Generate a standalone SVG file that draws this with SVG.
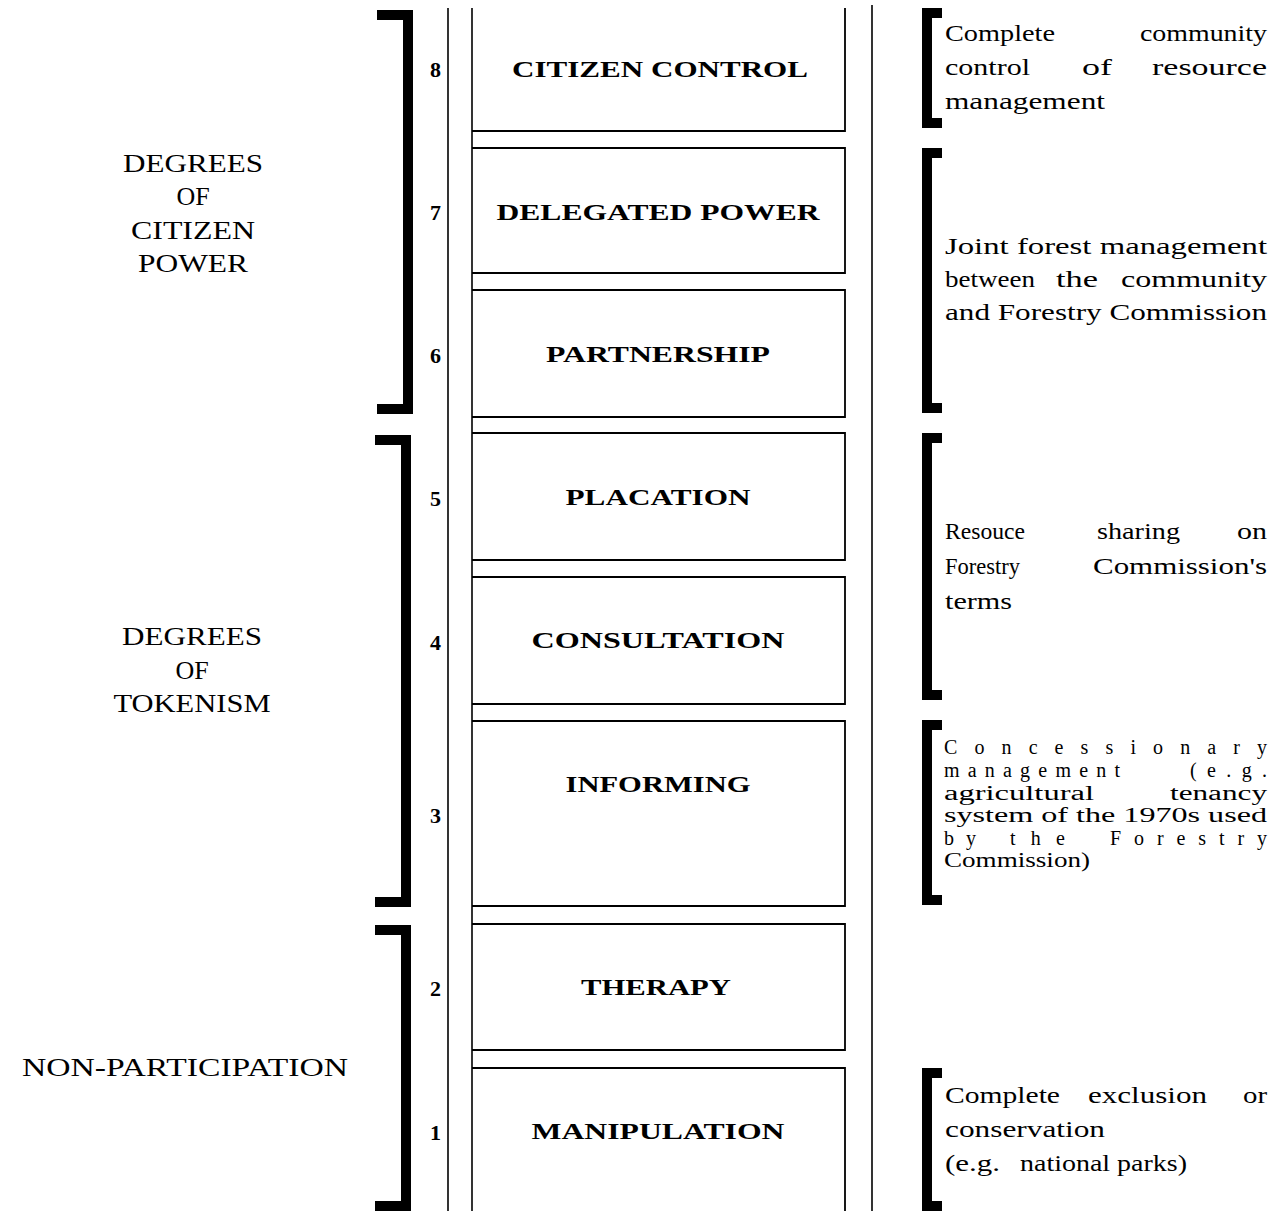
<svg xmlns="http://www.w3.org/2000/svg" width="1285" height="1211" viewBox="0 0 1285 1211">
<style>
.rail{stroke:#000;stroke-width:1.6;fill:none}
.box{stroke:#000;stroke-width:1.8;fill:none}
.br{stroke:#000;stroke-width:10;fill:none;stroke-linejoin:miter;stroke-linecap:butt}
.lbl{font-family:"Liberation Serif","Times New Roman",serif;font-weight:bold;font-size:24px;fill:#000;text-anchor:middle}
.num{font-family:"Liberation Serif","Times New Roman",serif;font-weight:bold;font-size:22px;fill:#000;text-anchor:end}
.grp{font-family:"Liberation Serif","Times New Roman",serif;font-size:26px;fill:#000;text-anchor:middle}
.desc{font-family:"Liberation Serif","Times New Roman",serif;font-size:24px;fill:#000}
.desc2{font-family:"Liberation Serif","Times New Roman",serif;font-size:20px;fill:#000}
.e{text-anchor:end}
</style>
<rect width="1285" height="1211" fill="#fff"/>
<g id="rails">
<line class="rail" x1="448" y1="8" x2="448" y2="1211"/>
<line class="rail" x1="472" y1="8" x2="472" y2="1211"/>
<line class="rail" x1="872" y1="5" x2="872" y2="1211"/>
</g>
<g id="rung8"><path class="box" d="M845,8 V131 H472"/><text class="num" x="441" y="77">8</text><text class="lbl" x="660" y="77" textLength="296" lengthAdjust="spacingAndGlyphs">CITIZEN CONTROL</text></g>
<g id="rung7"><path class="box" d="M472,148 H845 V273 H472"/><text class="num" x="441" y="220">7</text><text class="lbl" x="658" y="220" textLength="323" lengthAdjust="spacingAndGlyphs">DELEGATED POWER</text></g>
<g id="rung6"><path class="box" d="M472,290 H845 V417 H472"/><text class="num" x="441" y="363">6</text><text class="lbl" x="658" y="362" textLength="224" lengthAdjust="spacingAndGlyphs">PARTNERSHIP</text></g>
<g id="rung5"><path class="box" d="M472,433 H845 V560 H472"/><text class="num" x="441" y="506">5</text><text class="lbl" x="658" y="505" textLength="185" lengthAdjust="spacingAndGlyphs">PLACATION</text></g>
<g id="rung4"><path class="box" d="M472,577 H845 V704 H472"/><text class="num" x="441" y="650">4</text><text class="lbl" x="658" y="648" textLength="253" lengthAdjust="spacingAndGlyphs">CONSULTATION</text></g>
<g id="rung3"><path class="box" d="M472,721 H845 V906 H472"/><text class="num" x="441" y="823">3</text><text class="lbl" x="658" y="792" textLength="185" lengthAdjust="spacingAndGlyphs">INFORMING</text></g>
<g id="rung2"><path class="box" d="M472,924 H845 V1050 H472"/><text class="num" x="441" y="996">2</text><text class="lbl" x="656" y="995" textLength="150" lengthAdjust="spacingAndGlyphs">THERAPY</text></g>
<g id="rung1"><path class="box" d="M472,1068 H845 V1211"/><text class="num" x="441" y="1140">1</text><text class="lbl" x="658" y="1139" textLength="253" lengthAdjust="spacingAndGlyphs">MANIPULATION</text></g>

<g id="group-citizen-power">
<path class="br" d="M377,15 H408 V409 H377"/>
<text class="grp" x="193" y="172" textLength="140" lengthAdjust="spacingAndGlyphs">DEGREES</text>
<text class="grp" x="193" y="205">OF</text>
<text class="grp" x="193" y="239" textLength="124" lengthAdjust="spacingAndGlyphs">CITIZEN</text>
<text class="grp" x="193" y="272" textLength="110" lengthAdjust="spacingAndGlyphs">POWER</text>
</g>
<g id="group-tokenism">
<path class="br" d="M375,440 H406 V902 H375"/>
<text class="grp" x="192" y="645" textLength="140" lengthAdjust="spacingAndGlyphs">DEGREES</text>
<text class="grp" x="192" y="679">OF</text>
<text class="grp" x="192" y="712" textLength="157" lengthAdjust="spacingAndGlyphs">TOKENISM</text>
</g>
<g id="group-nonparticipation">
<path class="br" d="M375,930 H406 V1206 H375"/>
<text class="grp" x="185" y="1076" textLength="326" lengthAdjust="spacingAndGlyphs">NON-PARTICIPATION</text>
</g>

<g id="desc-1">
<path class="br" d="M942,13 H927 V123 H942"/>
<text class="desc" x="945" y="41" textLength="110" lengthAdjust="spacingAndGlyphs">Complete</text>
<text class="desc e" x="1267" y="41" textLength="127" lengthAdjust="spacingAndGlyphs">community</text>
<text class="desc" x="945" y="75" textLength="85" lengthAdjust="spacingAndGlyphs">control</text>
<text class="desc" x="1082" y="75" textLength="30" lengthAdjust="spacingAndGlyphs">of</text>
<text class="desc e" x="1267" y="75" textLength="115" lengthAdjust="spacingAndGlyphs">resource</text>
<text class="desc" x="945" y="109" textLength="160" lengthAdjust="spacingAndGlyphs">management</text>
</g>
<g id="desc-2">
<path class="br" d="M942,153 H927 V408 H942"/>
<text class="desc" x="945" y="254" textLength="322" lengthAdjust="spacingAndGlyphs">Joint forest management</text>
<text class="desc" x="945" y="287" textLength="90" lengthAdjust="spacingAndGlyphs">between</text>
<text class="desc" x="1056" y="287" textLength="42" lengthAdjust="spacingAndGlyphs">the</text>
<text class="desc e" x="1267" y="287" textLength="146" lengthAdjust="spacingAndGlyphs">community</text>
<text class="desc" x="945" y="320" textLength="322" lengthAdjust="spacingAndGlyphs">and Forestry Commission</text>
</g>
<g id="desc-3">
<path class="br" d="M942,438 H927 V695 H942"/>
<text class="desc" x="945" y="539" textLength="80" lengthAdjust="spacingAndGlyphs">Resouce</text>
<text class="desc" x="1097" y="539" textLength="83" lengthAdjust="spacingAndGlyphs">sharing</text>
<text class="desc e" x="1267" y="539" textLength="30" lengthAdjust="spacingAndGlyphs">on</text>
<text class="desc" x="945" y="574" textLength="75" lengthAdjust="spacingAndGlyphs">Forestry</text>
<text class="desc e" x="1267" y="574" textLength="174" lengthAdjust="spacingAndGlyphs">Commission's</text>
<text class="desc" x="945" y="609" textLength="67" lengthAdjust="spacingAndGlyphs">terms</text>
</g>
<g id="desc-4">
<path class="br" d="M942,725 H927 V900 H942"/>
<text class="desc2" x="944" y="754" textLength="323" lengthAdjust="spacing">Concessionary</text>
<text class="desc2" x="944" y="777" textLength="176" lengthAdjust="spacing">management</text>
<text class="desc2 e" x="1267" y="777" textLength="77" lengthAdjust="spacing">(e.g.</text>
<text class="desc2" x="944" y="800" textLength="150" lengthAdjust="spacingAndGlyphs">agricultural</text>
<text class="desc2 e" x="1267" y="800" textLength="97" lengthAdjust="spacingAndGlyphs">tenancy</text>
<text class="desc2" x="944" y="822" textLength="323" lengthAdjust="spacingAndGlyphs">system of the 1970s used</text>
<text class="desc2" x="944" y="845" textLength="32" lengthAdjust="spacing">by</text>
<text class="desc2" x="1010" y="845" textLength="55" lengthAdjust="spacing">the</text>
<text class="desc2 e" x="1267" y="845" textLength="157" lengthAdjust="spacing">Forestry</text>
<text class="desc2" x="944" y="867" textLength="146" lengthAdjust="spacingAndGlyphs">Commission)</text>
</g>
<g id="desc-5">
<path class="br" d="M942,1073 H927 V1211"/>
<path class="br" d="M927,1206 H942"/>
<text class="desc" x="945" y="1103" textLength="115" lengthAdjust="spacingAndGlyphs">Complete</text>
<text class="desc" x="1088" y="1103" textLength="119" lengthAdjust="spacingAndGlyphs">exclusion</text>
<text class="desc e" x="1267" y="1103" textLength="24" lengthAdjust="spacingAndGlyphs">or</text>
<text class="desc" x="945" y="1137" textLength="160" lengthAdjust="spacingAndGlyphs">conservation</text>
<text class="desc" x="945" y="1171" textLength="55" lengthAdjust="spacingAndGlyphs">(e.g.</text>
<text class="desc" x="1020" y="1171" textLength="167" lengthAdjust="spacingAndGlyphs">national parks)</text>
</g>
</svg>
